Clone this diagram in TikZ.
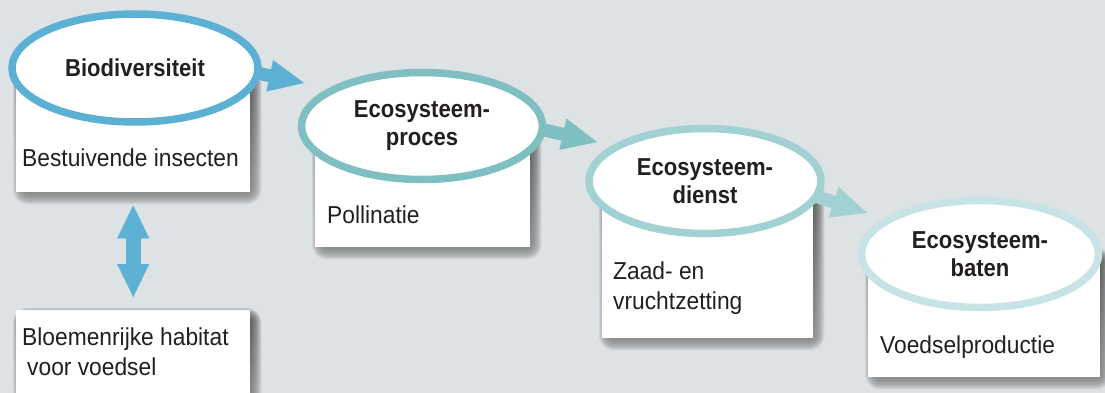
\documentclass[tikz,border=0pt]{standalone}
\usepackage{fontspec}
\setmainfont{Liberation Sans}[FakeStretch=0.9]
\newfontfamily\bodyfont{Liberation Sans}[FakeStretch=0.93]
\usetikzlibrary{arrows.meta,shapes.geometric}
\definecolor{bg}{HTML}{DDE2E5}
\definecolor{cone}{HTML}{5BB0D3}
\definecolor{ctwo}{HTML}{80BFC1}
\definecolor{cthree}{HTML}{A2D1D4}
\definecolor{cfour}{HTML}{C7E3E5}
\definecolor{ink}{HTML}{231F20}
\definecolor{shade}{HTML}{30363C}
\pgfdeclarelayer{bgl}
\pgfdeclarelayer{shl}
\pgfdeclarelayer{back}
\pgfdeclarelayer{mid}
\pgfsetlayers{bgl,shl,back,mid,main}
\tikzset{
  box/.style={fill=white, draw=none, anchor=north west, inner sep=0pt},
  oval/.style={ellipse, fill=white, line width=7.5pt, inner sep=0pt, align=center,
    text=ink, font=\fontsize{24.5}{28}\selectfont\bfseries},
  body/.style={anchor=base west, inner sep=0pt, align=left, text=ink,
    font=\fontsize{24.5}{30}\bodyfont},
  fat/.style={line width=13pt, -{Triangle[length=35pt, width=32pt, line width=0.1pt]}},
}
% soft shadow behind a box node: #1 = node name
\newcommand{\mysoftshadow}[1]{%
  \begin{pgfonlayer}{shl}
  \foreach \e in {-5,...,7}{%
    \fill[shade, opacity=0.065, rounded corners={(\e+8)*1pt}]
      ([shift={(4-\e,5-\e)}]#1.north west) rectangle ([shift={(4+\e,5+\e)}]#1.south east);
  }
  \end{pgfonlayer}}
\begin{document}
\begin{tikzpicture}[x=1pt, y=-1pt]
\begin{pgfonlayer}{bgl}
\fill[bg] (0,0) rectangle (1105,393);
\end{pgfonlayer}
\useasboundingbox (0,0) rectangle (1105,393);

% boxes
\begin{pgfonlayer}{back}
\node[box, minimum width=234pt, minimum height=122pt] (b1) at (16,70) {};
\node[box, minimum width=234pt, minimum height=95pt] (b1b) at (16,310) {};
\node[box, minimum width=215pt, minimum height=122pt] (b2) at (315,125) {};
\node[box, minimum width=211pt, minimum height=158pt] (b3) at (602,180) {};
\node[box, minimum width=232pt, minimum height=127pt] (b4) at (868,250) {};
\end{pgfonlayer}
\mysoftshadow{b1}
\mysoftshadow{b1b}
\mysoftshadow{b2}
\mysoftshadow{b3}
\mysoftshadow{b4}

% ellipses
\node[oval, draw=cone, minimum width=246pt, minimum height=108pt] (e1) at (135,68) {Biodiversiteit};
\node[oval, draw=ctwo, minimum width=241pt, minimum height=107pt] (e2) at (422,126) {Ecosysteem-\\proces};
\node[oval, draw=cthree, minimum width=232pt, minimum height=105pt] (e3) at (705,181) {Ecosysteem-\\dienst};
\node[oval, draw=cfour, minimum width=237pt, minimum height=107pt] (e4) at (980,254) {Ecosysteem-\\baten};

% body texts
\node[body] (t1) at (22,166) {Bestuivende insecten};
\node[body] (t1b) at (22,375) {Bloemenrijke habitat\\\hspace{5pt}voor voedsel};
\node[body] (t2) at (327,223) {Pollinatie};
\node[body] (t3) at (613,309) {Zaad- en\\vruchtzetting};
\node[body] (t4) at (880,353) {Voedselproductie};

% connectors
\coordinate (a1s) at (252,72);
\coordinate (a1t) at (304,83);
\coordinate (a2s) at (540,129);
\coordinate (a2t) at (597,142);
\coordinate (a3s) at (812,195);
\coordinate (a3t) at (867,213);
\begin{pgfonlayer}{mid}
\draw[fat, draw=cone, fill=cone] (a1s) -- (a1t);
\draw[fat, draw=ctwo, fill=ctwo] (a2s) -- (a2t);
\draw[fat, draw=cthree, fill=cthree] (a3s) -- (a3t);
\draw[draw=cone, line width=15pt, shorten <=13pt, shorten >=13pt,
  {Triangle[length=33pt, width=32pt, line width=0.1pt]}-{Triangle[length=33pt, width=32pt, line width=0.1pt]}]
  (b1.south) -- (b1b.north);
\end{pgfonlayer}
\end{tikzpicture}
\end{document}
